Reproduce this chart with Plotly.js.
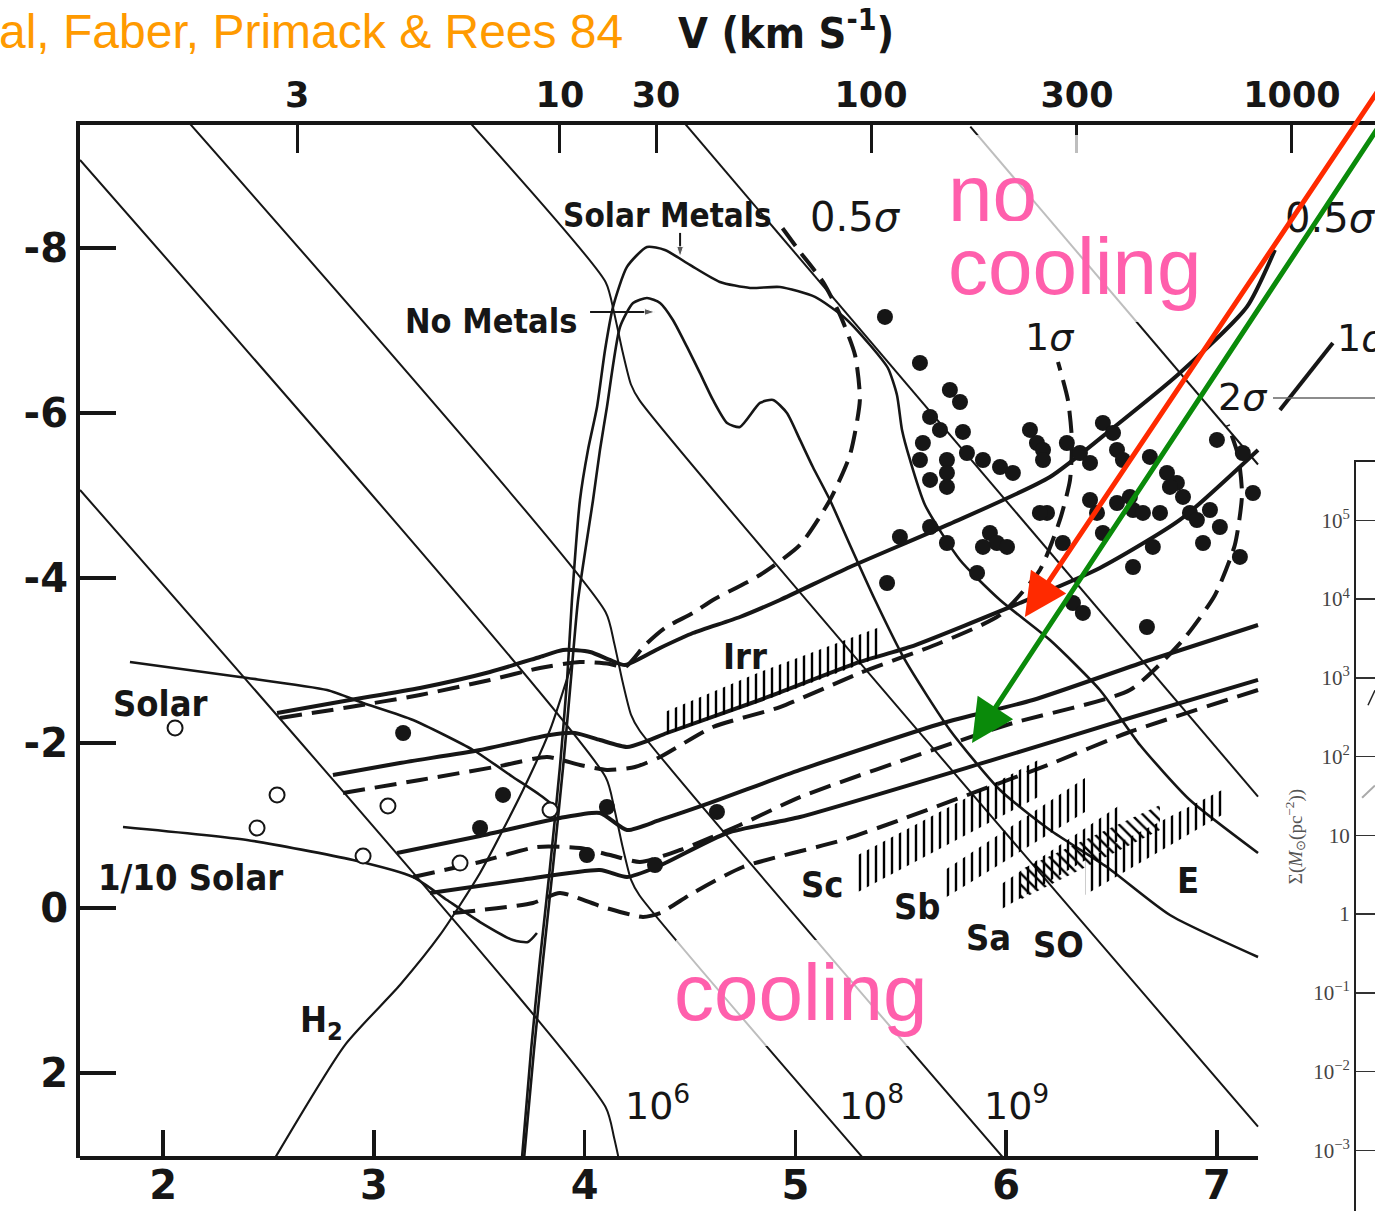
<!DOCTYPE html>
<html>
<head>
<meta charset="utf-8">
<script src="https://cdn.plot.ly/plotly-3.0.1.min.js"></script>
<style>
  html, body { margin: 0; padding: 0; background: #fff; }
  #chart { width: 1375px; height: 1211px; }
</style>
</head>
<body>
<div id="chart"></div>
<script>
const W = 1375, H = 1211;

// ---- axes: log T (bottom), log n (left, reversed), circular velocity (top) ----
const tempTicks = [2, 3, 4, 5, 6, 7];
const densTicks = [-8, -6, -4, -2, 0, 2];
const densText = ['-8', '-6', '-4', '-2', '0', '2'];
const velTickPos = [2.636, 3.883, 4.339, 5.359, 6.336, 7.356];
const velTickText = ['3', '10', '30', '100', '300', '1000'];

// ---- lines of constant mass (10^6 ... 10^15 Msun) ----
const m6X = [1.606, 4.10, 4.14, 4.18];
const m6Y = [-5.067, 2.415, 2.785, 3.255];
const m8X = [1.606, 4.10, 4.14, 4.18, 4.22, 4.26, 5.36];
const m8Y = [-9.067, -1.585, -1.215, -0.745, -0.345, -0.155, 3.145];
const m9X = [2.10, 4.10, 4.14, 4.18, 4.22, 4.26, 6.06];
const m9Y = [-9.585, -3.585, -3.215, -2.745, -2.345, -2.155, 3.245];
const m11X = [3.44, 4.10, 4.14, 4.18, 4.22, 4.26, 7.195];
const m11Y = [-9.565, -7.585, -7.215, -6.745, -6.345, -6.155, 2.65];
const m13X = [4.45, 7.195];
const m13Y = [-9.585, -1.35];
const m15X = [5.83, 7.195];
const m15Y = [-9.47, -5.375];

// ---- cooling = free-fall curves ----
const solarMetalsX = [3.703, 3.746, 3.788, 3.836, 3.883, 3.917, 3.940, 3.978, 4.016, 4.059, 4.097, 4.135, 4.201, 4.296, 4.381, 4.500, 4.642, 4.785, 4.927, 5.093, 5.235, 5.354, 5.439, 5.482, 5.506, 5.544, 5.615, 5.781, 5.971, 6.208, 6.445, 6.635, 6.872, 7.195];
const solarMetalsY = [3.030, 1.721, 0.630, -0.497, -1.709, -2.764, -3.733, -4.945, -5.552, -6.073, -6.764, -7.285, -7.770, -8.012, -7.976, -7.794, -7.588, -7.515, -7.527, -7.406, -7.152, -6.824, -6.545, -6.218, -5.794, -5.430, -4.885, -4.218, -3.733, -3.248, -2.642, -1.976, -1.309, -0.667];
const noMetalsX = [3.713, 3.760, 3.803, 3.850, 3.898, 3.935, 3.969, 4.040, 4.073, 4.106, 4.168, 4.230, 4.296, 4.358, 4.419, 4.486, 4.547, 4.609, 4.676, 4.737, 4.832, 4.894, 4.960, 5.022, 5.083, 5.164, 5.259, 5.378, 5.520, 5.733, 5.971, 6.208, 6.478, 6.777, 7.195];
const noMetalsY = [3.030, 1.721, 0.630, -0.497, -1.709, -2.764, -3.733, -4.945, -5.552, -6.073, -7.042, -7.333, -7.394, -7.333, -7.127, -6.800, -6.485, -6.158, -5.879, -5.830, -6.121, -6.158, -6.000, -5.673, -5.345, -4.945, -4.400, -3.733, -3.006, -2.158, -1.430, -0.945, -0.497, 0.085, 0.594];
const solarX = [1.843, 2.365, 2.778, 2.949, 3.186, 3.471, 3.660, 3.788, 3.869];
const solarY = [-2.982, -2.800, -2.642, -2.485, -2.279, -1.915, -1.588, -1.370, -1.212];
const tenthSolarX = [1.810, 2.398, 2.901, 3.186, 3.347, 3.504, 3.660, 3.731, 3.774];
const tenthSolarY = [-0.982, -0.824, -0.582, -0.376, -0.097, 0.170, 0.388, 0.412, 0.303];
const h2X = [2.531, 2.863, 3.124, 3.314, 3.504, 3.708, 3.836, 3.945];
const h2Y = [3.030, 1.661, 0.933, 0.327, -0.424, -1.430, -2.158, -3.006];

// ---- collapse tracks of 0.5, 1, 2, 3 sigma peaks (solid and dashed) ----
const half_sX = [2.541, 2.887, 3.219, 3.551, 3.788, 3.898, 4.026, 4.120, 4.192, 4.358, 4.514, 4.737, 4.927, 5.259, 5.733, 6.208, 6.507, 6.824, 7.142, 7.275];
const half_sY = [-2.364, -2.521, -2.667, -2.861, -3.042, -3.127, -3.103, -3.006, -2.945, -3.152, -3.333, -3.527, -3.733, -4.133, -4.655, -5.224, -5.818, -6.485, -7.285, -7.976];
const half_dX = [2.555, 2.887, 3.219, 3.551, 3.788, 3.978, 4.120, 4.192, 4.287, 4.381, 4.514, 4.609, 4.832, 5.022, 5.164, 5.259, 5.306, 5.283, 5.212, 5.131, 5.022, 4.917];
const half_dY = [-2.303, -2.436, -2.582, -2.764, -2.909, -2.982, -2.958, -2.921, -3.188, -3.394, -3.576, -3.733, -4.036, -4.400, -4.945, -5.491, -6.158, -6.703, -7.188, -7.588, -7.952, -8.315];
const one_sX = [2.806, 3.124, 3.504, 3.836, 3.954, 4.073, 4.201, 4.296, 4.391, 4.832, 5.306, 5.544, 6.065, 6.445, 6.824, 7.195];
const one_sY = [-1.612, -1.758, -1.915, -2.097, -2.121, -2.036, -1.952, -2.024, -2.121, -2.521, -2.982, -3.164, -3.697, -4.121, -4.703, -5.552];
const one_sTailX = [7.299, 7.550];
const one_sTailY = [-6.036, -6.848];
const one_dX = [2.854, 3.219, 3.599, 3.822, 3.978, 4.106, 4.239, 4.358, 4.609, 4.927, 5.306, 5.686, 5.971, 6.160, 6.255, 6.303, 6.312, 6.293, 6.246];
const one_dY = [-1.394, -1.552, -1.721, -1.830, -1.733, -1.673, -1.709, -1.830, -2.194, -2.436, -2.848, -3.212, -3.552, -4.097, -4.703, -5.188, -5.673, -6.158, -6.618];
const two_sX = [3.110, 3.504, 3.883, 4.073, 4.201, 4.358, 4.595, 5.022, 5.700, 6.127, 6.682, 7.195];
const two_sY = [-0.667, -0.873, -1.091, -1.152, -0.945, -1.067, -1.273, -1.673, -2.242, -2.521, -3.006, -3.430];
const two_dX = [3.186, 3.504, 3.774, 3.978, 4.121, 4.263, 4.453, 4.737, 5.022, 5.748, 6.032, 6.587, 6.839, 6.991, 7.085, 7.119, 7.100, 7.052];
const two_dY = [-0.376, -0.558, -0.739, -0.727, -0.642, -0.558, -0.703, -1.006, -1.345, -2.000, -2.242, -2.642, -3.248, -3.794, -4.400, -5.006, -5.491, -5.855];
const three_sX = [3.267, 3.694, 4.073, 4.201, 4.343, 4.676, 5.022, 5.890, 6.602, 7.195];
const three_sY = [-0.182, -0.339, -0.461, -0.376, -0.497, -0.909, -1.103, -1.758, -2.315, -2.764];
const three_dX = [3.376, 3.755, 3.883, 4.087, 4.277, 4.358, 4.514, 4.751, 5.226, 5.496, 6.222, 6.573, 7.195];
const three_dY = [0.061, -0.061, -0.182, -0.012, 0.109, 0.061, -0.182, -0.497, -0.824, -1.067, -1.758, -2.121, -2.642];

// ---- observed galaxies (filled) and open symbols ----
const galX = [5.425, 5.591, 5.733, 5.781, 5.639, 5.686, 5.795, 5.605, 5.591, 5.719, 5.719, 5.814, 5.890, 5.971, 6.032, 6.113, 6.146, 6.175, 6.175, 6.288, 6.350, 6.398, 6.459, 6.507, 6.526, 6.554, 6.682, 6.763, 6.810, 6.839, 7.000, 7.123, 5.639, 5.719, 5.496, 5.639, 5.719, 5.923, 5.956, 6.004, 5.890, 6.194, 6.269, 6.398, 6.431, 6.459, 6.526, 6.587, 6.602, 6.649, 6.730, 6.777, 6.872, 6.905, 6.967, 7.014, 7.109, 6.934, 6.696, 6.602, 5.862, 5.435, 6.317, 6.364, 6.668, 7.171, 6.160, 3.139, 3.613, 3.504, 4.106, 4.011, 4.334, 4.628];
const galY = [-7.164, -6.606, -6.279, -6.133, -5.952, -5.794, -5.770, -5.636, -5.430, -5.430, -5.273, -5.515, -5.430, -5.345, -5.273, -5.794, -5.636, -5.552, -5.430, -5.636, -5.515, -5.394, -5.879, -5.758, -5.552, -5.430, -5.467, -5.273, -5.152, -4.982, -5.673, -5.515, -5.188, -5.103, -4.497, -4.618, -4.424, -4.545, -4.424, -4.376, -4.376, -4.788, -4.424, -4.945, -4.788, -4.545, -4.909, -4.982, -4.824, -4.788, -4.788, -5.103, -4.788, -4.703, -4.824, -4.618, -4.255, -4.424, -4.376, -4.133, -4.061, -3.939, -3.697, -3.576, -3.406, -5.030, -4.788, -2.121, -1.370, -0.970, -1.224, -0.642, -0.521, -1.164];
const openX = [2.057, 2.541, 2.446, 3.067, 2.949, 3.409, 3.836];
const openY = [-2.182, -1.370, -0.970, -1.236, -0.630, -0.545, -1.188];

// ---- morphological type bands ----
const irrX = [4.381, 4.832, 5.401, 5.401, 4.832, 4.381];
const irrY = [-2.097, -2.497, -3.042, -3.406, -2.861, -2.376];
const scX = [5.297, 6.170, 6.170, 5.297];
const scY = [-0.194, -1.370, -1.818, -0.642];
const sbX = [5.710, 6.374, 6.374, 5.710];
const sbY = [-0.121, -1.164, -1.576, -0.461];
const saX = [5.971, 6.540, 6.540, 5.971];
const saY = [0.024, -0.824, -1.248, -0.279];
const s0X = [6.065, 6.730, 6.730, 6.065];
const s0Y = [-0.097, -0.945, -1.248, -0.461];
const eX = [6.374, 7.024, 7.024, 6.374];
const eY = [-0.158, -1.127, -1.430, -0.582];

// ---- label pointers (start -> tip) ----
const noMetalsPtrX = [4.026, 4.334];
const noMetalsPtrY = [-7.224, -7.224];
const solarMetalsPtrX = [4.453, 4.453];
const solarMetalsPtrY = [-8.182, -7.891];

// ---- arrows (tail -> head), red then green ----
const arrowTailX = [7.783, 7.773];
const arrowTailY = [-9.976, -9.491];
const arrowHeadX = [6.089, 5.838];
const arrowHeadY = [-3.527, -2.000];
const arrowColors = ['#ff2a00', '#0a8a0a'];

// ---- surface density panel ----
const sigmaTicks = [1e5, 1e4, 1e3, 1e2, 10, 1, 0.1, 0.01, 0.001];
const sigmaText = ['10<sup>5</sup>', '10<sup>4</sup>', '10<sup>3</sup>', '10<sup>2</sup>', '10', '1', '10<sup>−1</sup>', '10<sup>−2</sup>', '10<sup>−3</sup>'];
const panelAX = [0.63, 1.0];
const panelAY = [448, 695];
const panelBX = [0.32, 1.0];
const panelBY = [30, 43];

// ---------------------------------------------------------------
const INK = '#161616';
function curve(x, y, width, dash, extra) {
  return Object.assign({
    type: 'scatter', mode: 'lines', x: x, y: y, hoverinfo: 'skip',
    line: { color: INK, width: width, dash: dash || 'solid', shape: 'spline', smoothing: 0.6 }
  }, extra || {});
}
function band(x, y, shape) {
  return {
    type: 'scatter', mode: 'none', x: x, y: y, fill: 'toself', hoverinfo: 'skip',
    fillcolor: 'rgba(0,0,0,0)',
    fillpattern: { shape: shape, size: 8, solidity: 0.3, fgcolor: '#000', fgopacity: 1,
                   bgcolor: 'rgba(0,0,0,0)', fillmode: 'overlay' }
  };
}
function pointer(x, y) {
  return {
    type: 'scatter', mode: 'lines+markers', x: x, y: y, hoverinfo: 'skip', cliponaxis: false,
    line: { color: INK, width: 2 },
    marker: { symbol: 'arrow', size: [0, 11], angleref: 'previous', color: INK }
  };
}
const DASH = '22px,10px';

const traces = [
  curve(m6X, m6Y, 2), curve(m8X, m8Y, 2), curve(m9X, m9Y, 2),
  curve(m11X, m11Y, 2), curve(m13X, m13Y, 2), curve(m15X, m15Y, 2),
  curve(solarMetalsX, solarMetalsY, 2.6), curve(noMetalsX, noMetalsY, 2.6),
  curve(solarX, solarY, 2.6), curve(tenthSolarX, tenthSolarY, 2.6),
  curve(h2X, h2Y, 2.2, 'solid', { xaxis: 'x2' }),
  curve(half_sX, half_sY, 4), curve(half_dX, half_dY, 4, DASH),
  curve(one_sX, one_sY, 4), curve(one_sTailX, one_sTailY, 4), curve(one_dX, one_dY, 4, DASH),
  curve(two_sX, two_sY, 4), curve(two_dX, two_dY, 4, DASH),
  curve(three_sX, three_sY, 4), curve(three_dX, three_dY, 4, DASH),
  band(irrX, irrY, '|'), band(scX, scY, '|'), band(sbX, sbY, '|'),
  band(saX, saY, '|'), band(s0X, s0Y, '\\'), band(eX, eY, '|'),
  pointer(noMetalsPtrX, noMetalsPtrY), pointer(solarMetalsPtrX, solarMetalsPtrY),
  { type: 'scatter', mode: 'markers', x: galX, y: galY, hoverinfo: 'skip',
    marker: { size: 16, color: INK, line: { width: 0 } } },
  { type: 'scatter', mode: 'markers', x: openX, y: openY, hoverinfo: 'skip',
    marker: { size: 15, color: '#fff', line: { width: 2, color: INK } } },
  { type: 'scatter', mode: 'lines', x: panelAX, y: panelAY, xaxis: 'x3', yaxis: 'y3', hoverinfo: 'skip',
    line: { color: '#222', width: 1.5 } },
  { type: 'scatter', mode: 'lines', x: panelBX, y: panelBY, xaxis: 'x3', yaxis: 'y3', hoverinfo: 'skip',
    line: { color: '#aaa', width: 2 } }
];

// pixel position on the page -> paper fraction
const P = (x, y) => ({ x: x / W, y: 1 - y / H, xref: 'paper', yref: 'paper' });
const BOLD = 'DejaVu Sans Condensed, DejaVu Sans';
function label(text, x, y, size, family, extra) {
  return Object.assign(P(x, y), {
    text: text, showarrow: false, xanchor: 'center', yanchor: 'middle',
    font: { family: family || BOLD, size: size, color: INK, weight: 700 }
  }, extra || {});
}
function plain(text, x, y, size) {
  return label(text, x, y, size, 'DejaVu Sans', { font: { family: 'DejaVu Sans', size: size, color: INK } });
}
const PINK = { family: 'Liberation Sans, Arial, sans-serif', size: 80, color: '#ff5fac' };

const annotations = [
  label('Solar Metals', 667, 216, 33),
  plain('0.5<i>σ</i>', 855, 217, 40),
  label('No Metals', 491, 321, 34),
  label('Irr', 745, 656, 36),
  label('Solar', 160, 703, 36),
  label('1/10 Solar', 191, 877, 36),
  label('H<sub>2</sub>', 321, 1022, 36),
  label('Sc', 823, 884, 36),
  label('Sb', 917, 906, 36),
  label('Sa', 988, 938, 36),
  label('SO', 1058, 944, 36),
  label('E', 1188, 880, 36),
  plain('10<sup>6</sup>', 657, 1103, 38),
  plain('10<sup>8</sup>', 871, 1103, 38),
  plain('10<sup>9</sup>', 1016, 1103, 38),
  plain('1<i>σ</i>', 1050, 337, 38),
  plain('2<i>σ</i>', 1243, 397, 38),
  plain('0.5<i>σ</i>', 1330, 218, 40),
  plain('1<i>σ</i>', 1362, 338, 38),
  // headings
  Object.assign(P(625, 32), { text: 'al, Faber, Primack &amp; Rees 84', showarrow: false, xanchor: 'right', yanchor: 'middle',
    font: { family: 'Liberation Sans, Arial, sans-serif', size: 48, color: '#ff9a00' } }),
  Object.assign(P(676, 30), { text: 'V (km S<sup>-1</sup>)', showarrow: false, xanchor: 'left', yanchor: 'middle',
    font: { family: BOLD, size: 43, color: INK, weight: 700 } }),
  // regimes
  Object.assign(P(946, 193), { text: 'no', showarrow: false, xanchor: 'left', yanchor: 'middle',
    height: 56, valign: 'middle', font: PINK }),
  Object.assign(P(946, 266), { text: 'cooling', showarrow: false, xanchor: 'left', yanchor: 'middle',
    font: PINK }),
  Object.assign(P(672, 992), { text: 'cooling', showarrow: false, xanchor: 'left', yanchor: 'middle',
    font: PINK })
];
for (let i = 0; i < arrowHeadX.length; i++) {
  annotations.push({
    x: arrowHeadX[i], y: arrowHeadY[i], ax: arrowTailX[i], ay: arrowTailY[i],
    xref: 'x', yref: 'y', axref: 'x', ayref: 'y', text: '', showarrow: true,
    arrowhead: 2, arrowsize: 1.7, arrowwidth: 5, arrowcolor: arrowColors[i]
  });
}

const shapes = [
  // lower frame line of the main panel
  { type: 'line', xref: 'x', yref: 'paper', x0: 1.606, x1: 7.195, y0: 53 / H, y1: 53 / H,
    line: { color: INK, width: 4 } },
  // upper edge of the surface density panel
  { type: 'line', xref: 'paper', yref: 'paper', x0: 1273 / W, x1: 1, y0: 1 - 398 / H, y1: 1 - 398 / H,
    line: { color: '#666', width: 1.5 } },
  // translucent boxes behind the regime words
  { type: 'rect', xref: 'paper', yref: 'paper', layer: 'above', x0: 950 / W, x1: 1210 / W, y0: 1 - 322 / H, y1: 1 - 135 / H,
    fillcolor: 'rgba(255,255,255,0.72)', line: { width: 0 } },
  { type: 'rect', xref: 'paper', yref: 'paper', layer: 'above', x0: 676 / W, x1: 930 / W, y0: 1 - 1046 / H, y1: 1 - 940 / H,
    fillcolor: 'rgba(255,255,255,0.72)', line: { width: 0 } }
];

const tickFont = { family: 'DejaVu Sans', color: INK, weight: 700 };
const layout = {
  width: W, height: H,
  margin: { l: 0, r: 0, t: 0, b: 0 },
  font: { family: 'DejaVu Sans', size: 20, color: INK },
  paper_bgcolor: '#fff', plot_bgcolor: 'rgba(0,0,0,0)',
  showlegend: false, hovermode: false,
  xaxis: {
    domain: [80 / W, 1], range: [1.606, 7.750], anchor: 'y',
    showline: false, showgrid: false, zeroline: false,
    ticks: 'inside', ticklen: 28, tickwidth: 3.5, tickcolor: INK,
    tickvals: tempTicks, tickfont: Object.assign({ size: 40 }, tickFont)
  },
  xaxis2: {
    overlaying: 'x', side: 'top', anchor: 'y', range: [1.606, 7.750],
    showline: true, linewidth: 4, linecolor: INK, showgrid: false, zeroline: false,
    ticks: 'inside', ticklen: 28, tickwidth: 3, tickcolor: INK,
    tickvals: velTickPos, ticktext: velTickText, tickfont: Object.assign({ size: 35 }, tickFont)
  },
  yaxis: {
    domain: [53 / H, 1 - 125 / H], range: [3.03, -9.49], anchor: 'x',
    showline: true, linewidth: 4, linecolor: INK, showgrid: false, zeroline: false,
    ticks: 'inside', ticklen: 36, tickwidth: 4, tickcolor: INK,
    tickvals: densTicks, ticktext: densText, tickfont: Object.assign({ size: 40 }, tickFont)
  },
  xaxis3: {
    domain: [1356 / W, 1], anchor: 'y3', side: 'top', range: [0, 1],
    showline: true, linewidth: 2, linecolor: '#222', showgrid: false, zeroline: false,
    showticklabels: false, ticks: ''
  },
  yaxis3: {
    domain: [0, 1 - 462 / H], anchor: 'x3', type: 'log', range: [-3.77, 5.74],
    showline: true, linewidth: 2, linecolor: '#222', showgrid: false, zeroline: false,
    ticks: 'inside', ticklen: 20, tickwidth: 1.5, tickcolor: '#333',
    tickvals: sigmaTicks, ticktext: sigmaText,
    tickfont: { family: 'Liberation Serif, serif', size: 21, color: '#444' },
    title: { text: 'Σ(<i>M</i><sub>⊙</sub>(pc<sup>−2</sup>))', standoff: 6,
             font: { family: 'Liberation Serif, serif', size: 19, color: '#555' } }
  },
  shapes: shapes,
  annotations: annotations
};

Plotly.newPlot('chart', traces, layout, { staticPlot: true });
</script>
</body>
</html>
